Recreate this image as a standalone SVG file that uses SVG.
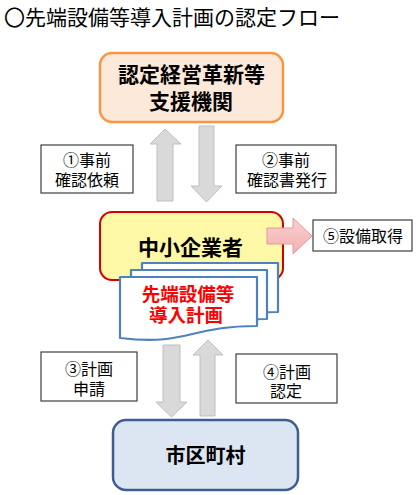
<svg xmlns="http://www.w3.org/2000/svg" width="419" height="495" viewBox="0 0 419 495">
<style>
text{font-family:"Noto Sans CJK JP","Noto Sans CJK SC",sans-serif;text-anchor:middle;fill:#000}
.title{text-anchor:start;font-size:21px}
.big{font-size:21px;font-weight:bold}
.lbl{font-size:16px}
.lblbox{fill:#fff;stroke:#3f3f3f;stroke-width:1.2}
.garrow{fill:#d9d9d9;stroke:#bfbfbf;stroke-width:1}
.doc{fill:#fff;stroke:#4f81bd;stroke-width:2.2;stroke-linejoin:round}
.red{fill:#ff0000;font-size:18.5px;font-weight:bold}
</style>
<defs>
<linearGradient id="pink" x1="0" y1="0" x2="0" y2="1">
<stop offset="0" stop-color="#f9d0d0"/><stop offset="1" stop-color="#f3b0b0"/>
</linearGradient>
</defs>
<rect width="419" height="495" fill="#fff"/>
<text class="title" x="4" y="25">〇先端設備等導入計画の認定フロー</text>

<g id="connectors">
<polygon class="garrow" points="165,129 181,144 173,144 173,201 157,201 157,144 150,144"/>
<polygon class="garrow" points="199,126 214,126 214,186 222,186 206.5,202 191,186 199,186"/>
<polygon class="garrow" points="163,345 180,345 180,402 187,402 171.5,417 156,402 163,402"/>
<polygon class="garrow" points="208,340 223,355 215,355 215,416 200,416 200,355 193,355"/>
</g>

<g id="node-shien">
<rect x="100" y="53" width="183" height="69" rx="12" fill="#fde9d9" stroke="#f79646" stroke-width="2.5"/>
<text class="big" x="191.5" y="81.5">認定経営革新等</text>
<text class="big" x="191" y="108.5">支援機関</text>
</g>

<g id="label-1">
<rect class="lblbox" x="41" y="145" width="92" height="48"/>
<text class="lbl" x="87" y="166">①事前</text>
<text class="lbl" x="87" y="186">確認依頼</text>
</g>
<g id="label-2">
<rect class="lblbox" x="236" y="145" width="100" height="48"/>
<text class="lbl" x="286" y="166">②事前</text>
<text class="lbl" x="287" y="186">確認書発行</text>
</g>

<g id="node-chusho">
<rect x="100" y="212" width="183" height="68" rx="12" fill="#fcf8a6" stroke="#d40000" stroke-width="2"/>
<text class="big" x="190.5" y="254.5">中小企業者</text>
</g>

<g id="arrow-5">
<polygon points="267,228 293,228 293,218 312,236 293,254 293,244 267,244" fill="url(#pink)" stroke="#e29a9a" stroke-width="1"/>
</g>
<g id="label-5">
<rect class="lblbox" x="313" y="220" width="99" height="31"/>
<text class="lbl" x="363" y="242">⑤設備取得</text>
</g>

<g id="node-plan">
<path class="doc" d="M142,263 H278 V312 C210,312 210,331 142,324 Z"/>
<path class="doc" d="M131,270 H267 V319 C199,319 199,338 131,331 Z"/>
<path class="doc" d="M120,277 H257 V326 C188.5,326 188.5,346 120,338 Z"/>
<text class="red" x="188" y="301">先端設備等</text>
<text class="red" x="186" y="322">導入計画</text>
</g>

<g id="label-3">
<rect class="lblbox" x="41" y="352" width="96" height="49"/>
<text class="lbl" x="89" y="375">③計画</text>
<text class="lbl" x="89" y="395">申請</text>
</g>
<g id="label-4">
<rect class="lblbox" x="236" y="354" width="101" height="49"/>
<text class="lbl" x="287" y="378">④計画</text>
<text class="lbl" x="286" y="397">認定</text>
</g>

<g id="node-shiku">
<rect x="113" y="420" width="185" height="70" rx="13" fill="#dce6f2" stroke="#3e5f8d" stroke-width="2.5"/>
<text class="big" x="205.5" y="463" style="font-size:20px">市区町村</text>
</g>
</svg>
